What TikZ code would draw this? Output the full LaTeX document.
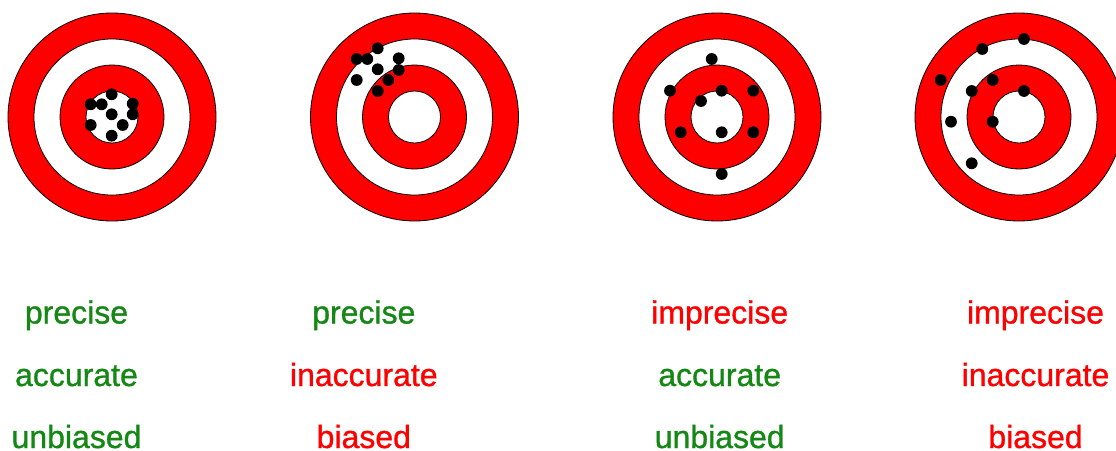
\documentclass[tikz,border=0pt]{standalone}
\usepackage{fontspec}
\setmainfont{Liberation Sans}
\newfontfamily\lblfont[FakeBold=1]{Liberation Sans}
\definecolor{tred}{RGB}{255,0,0}
\definecolor{tgreen}{RGB}{20,135,20}
\begin{document}
\begin{tikzpicture}[x=1pt,y=-1pt,
  ring/.style={draw=black,line width=0.8pt},
  shot/.style={fill=black},
  lbl/.style={anchor=base,inner sep=0pt,font=\lblfont\fontsize{32}{38}\selectfont},
  good/.style={lbl,text=tgreen},
  bad/.style={lbl,text=tred}]
\useasboundingbox (0,0) rectangle (1116,450);
\clip (0,0) rectangle (1116,450);
\foreach \n/\cx in {1/112,2/414.5,3/717,4/1019}{
  \coordinate (t\n) at (\cx,117);
  \filldraw[ring,fill=tred]  (t\n) circle[radius=104pt];
  \filldraw[ring,fill=white] (t\n) circle[radius=78pt];
  \filldraw[ring,fill=tred]  (t\n) circle[radius=52pt];
  \filldraw[ring,fill=white] (t\n) circle[radius=26pt];
}
% shots
\foreach \x/\y in {111.7/94.3,90.7/104.3,101.7/104.3,132.7/103.7,132.7/114.3,111.7/114.3,90.7/125,122.7/125,111.7/135.7,
  377.7/48.3,356.7/59,367.3/59,398.7/58.3,377.7/69.3,398.7/70,356.7/80,388.3/80,377.7/91,
  711.7/59,670/90.7,721.7/90.7,753.3/90.7,701/101,680.7/132.3,721.7/132.3,753.3/132.3,721.7/174,
  1024/39,982.3/49,940.7/80,992.7/80,971.7/91,1024/91,951/121.7,992.7/121.7,971.7/163.3}
  \fill[shot] (\x,\y) circle[radius=5.9pt];
% labels
\node[good] (p1) at (76.5,323.5) {precise};
\node[good] (a1) at (76.5,386) {accurate};
\node[good] (b1) at (76.5,448) {unbiased};
\node[good] (p2) at (363.8,323.5) {precise};
\node[bad]  (a2) at (363.8,386) {inaccurate};
\node[bad]  (b2) at (363.8,448) {biased};
\node[bad]  (p3) at (719.7,323.5) {imprecise};
\node[good] (a3) at (719.7,386) {accurate};
\node[good] (b3) at (719.7,448) {unbiased};
\node[bad]  (p4) at (1035.5,323.5) {imprecise};
\node[bad]  (a4) at (1035.5,386) {inaccurate};
\node[bad]  (b4) at (1035.5,448) {biased};
\end{tikzpicture}
\end{document}
